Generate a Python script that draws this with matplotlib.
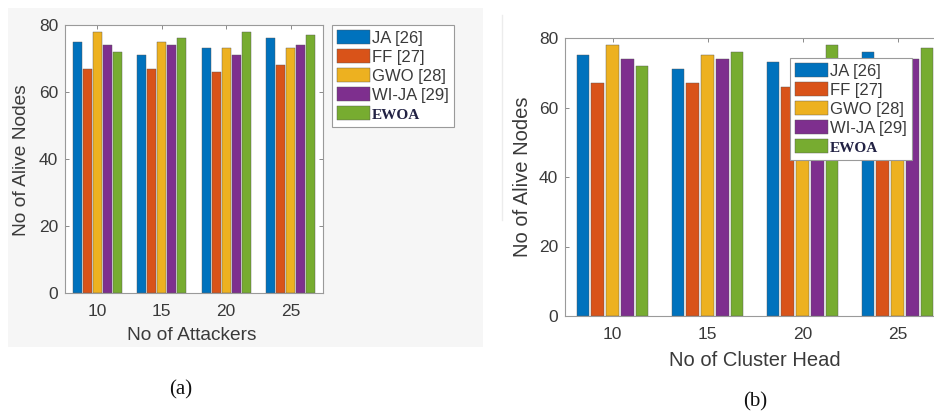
import matplotlib.pyplot as plt
import numpy as np
from matplotlib.patches import Rectangle
from matplotlib.lines import Line2D

# data (same values in both panels)
groups = ["10", "15", "20", "25"]
methods = ["JA [26]", "FF [27]", "GWO [28]", "WI-JA [29]", "EWOA"]
ja = [75, 71, 73, 76]
ff = [67, 67, 66, 68]
gwo = [78, 75, 73, 73]
wija = [74, 74, 71, 74]
ewoa = [72, 76, 78, 77]
series = [ja, ff, gwo, wija, ewoa]
colors = ["#0072BD", "#D95319", "#EDB120", "#7E2F8E", "#77AC30"]

W, H = 934, 412
fig = plt.figure(figsize=(W / 100, H / 100), dpi=100)
fig.patch.set_facecolor("white")

def px(x0, y0, x1, y1):
    # pixel box -> figure fraction [left, bottom, width, height]
    return [x0 / W, 1 - y1 / H, (x1 - x0) / W, (y1 - y0) / H]

# light grey background behind panel (a)
fig.patches.append(Rectangle((8 / W, 1 - 347 / H), (483 - 8) / W, (347 - 8) / H,
                             transform=fig.transFigure, facecolor="#f6f6f6",
                             edgecolor="none", zorder=-5))
fig.lines.append(Line2D([502 / W, 502 / W], [1 - 220 / H, 1 - 15 / H],
                        transform=fig.transFigure, color="#ececec", lw=1,
                        zorder=-5))

text_col = "#3a3a3a"
sans = ["Liberation Sans", "DejaVu Sans"]


def panel(rect, xlabel, xlab_pos, ylab_pos, leg_pos, tick_fs, lab_fs):
    ax = fig.add_axes(rect)
    x = np.arange(1, len(groups) + 1)
    pitch = 0.155
    for i, (vals, c, name) in enumerate(zip(series, colors, methods)):
        ax.bar(x + (i - 2) * pitch, vals, width=0.135, color=c,
               edgecolor="#555555", linewidth=0.3, label=name, zorder=2)
    ax.set_xlim(0.5, 4.5)
    ax.set_ylim(0, 80)
    ax.set_xticks(x)
    ax.set_xticklabels(groups, family=sans)
    ax.set_yticks([0, 20, 40, 60, 80])
    ax.set_yticklabels(["0", "20", "40", "60", "80"], family=sans)
    ax.tick_params(direction="in", length=3, width=0.6, color="#777777",
                   labelcolor=text_col, labelsize=tick_fs,
                   top=True, right=True)
    ax.tick_params(axis="x", pad=8)
    ax.tick_params(axis="y", pad=5)
    for s in ax.spines.values():
        s.set_color("#9a9a9a")
        s.set_linewidth(0.8)
    ax.set_facecolor("white")
    fig.text(xlab_pos[0] / W, 1 - xlab_pos[1] / H, xlabel, ha="center",
             va="center", fontsize=lab_fs, color=text_col, family=sans)
    fig.text(ylab_pos[0] / W, 1 - ylab_pos[1] / H, "No of Alive Nodes",
             ha="center", va="center", rotation=90, fontsize=lab_fs,
             color=text_col, family=sans)
    leg = ax.legend(loc="upper left", bbox_to_anchor=(leg_pos[0] / W, 1 - leg_pos[1] / H),
                    bbox_transform=fig.transFigure, borderaxespad=0,
                    fancybox=False, framealpha=1, edgecolor="#9a9a9a",
                    prop={"family": sans, "size": 12},
                    handlelength=2.0, handleheight=0.9, handletextpad=0.1,
                    labelspacing=0.2, borderpad=0.3)
    leg.get_frame().set_linewidth(0.8)
    for t in leg.get_texts():
        t.set_color(text_col)
    last = leg.get_texts()[-1]
    last.set_family(["Liberation Serif", "DejaVu Serif"])
    last.set_fontweight("bold")
    last.set_color("#222244")
    last.set_fontsize(11)
    return ax


panel(px(65, 25, 323, 293), "No of Attackers", (192, 335), (22, 160),
      (332, 25), 12.5, 13.8)
panel(px(565, 38, 945, 316), "No of Cluster Head", (755, 361), (523, 177),
      (790, 58), 12.5, 14.5)

fig.text(181 / W, 1 - 390 / H, "(a)", ha="center", va="center", fontsize=15,
         family=["Liberation Serif", "DejaVu Serif"], color="#111111")
fig.text(755 / W, 1 - 402 / H, "(b)", ha="center", va="center", fontsize=15,
         family=["Liberation Serif", "DejaVu Serif"], color="#111111")

fig.savefig("out.png", dpi=100)
